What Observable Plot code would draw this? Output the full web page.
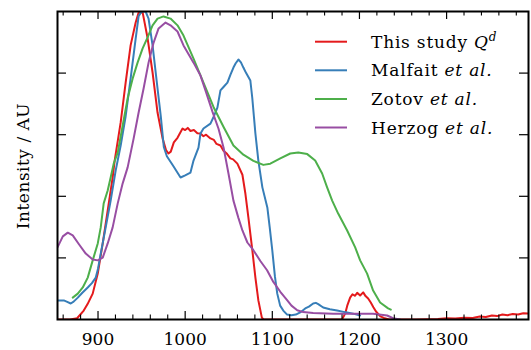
<!DOCTYPE html>
<html><head><meta charset="utf-8">
<script src="https://cdn.jsdelivr.net/npm/d3@7"></script>
<script src="https://cdn.jsdelivr.net/npm/@observablehq/plot@0.6"></script>
<style>
body{margin:0;background:#fff;}
#chart{width:531px;height:350px;}
#chart svg text, #chart svg tspan { font-family: "DejaVu Serif", serif !important; }
</style></head><body><div id="chart"></div>
<script>
const seriesNames = ["This study", "Malfait", "Zotov", "Herzog"];
const seriesColors = ["#e41a1c", "#377eb8", "#4daf4a", "#984ea3"];

const thisStudy = [[853.5,0],[868,0],[876,0.004],[883.6,0.029],[888,0.05],[893.9,0.084],[899.7,0.149],[905.4,0.247],[911.1,0.354],[916.8,0.461],[919.1,0.516],[926,0.640],[931.7,0.769],[937.4,0.890],[943.2,0.964],[946.6,0.997],[951.2,0.997],[956.9,0.913],[962.6,0.802],[968.3,0.672],[974.1,0.588],[978,0.550],[980.8,0.539],[983.5,0.545],[987,0.575],[991.2,0.590],[994,0.605],[997,0.620],[1000,0.615],[1003,0.622],[1006.1,0.612],[1010,0.615],[1014,0.605],[1017.6,0.604],[1021,0.595],[1024,0.600],[1029,0.588],[1033,0.583],[1036,0.570],[1040.5,0.565],[1044,0.548],[1048,0.538],[1051.9,0.523],[1055,0.52],[1059.9,0.506],[1065.7,0.47],[1069.1,0.409],[1072.5,0.332],[1077,0.227],[1080.6,0.136],[1084,0.062],[1088,0.006],[1090,0],[1180,0],[1183.6,0.019],[1186,0.045],[1189.3,0.071],[1192,0.082],[1195,0.077],[1197.4,0.087],[1200.8,0.078],[1204.3,0.088],[1207,0.076],[1210,0.068],[1213,0.055],[1216,0.04],[1219,0.026],[1224,0.01],[1228,0.005],[1234,0],[1265,0],[1290,0.002],[1300,0.004],[1310,0.003],[1320,0.006],[1330,0.005],[1338,0.01],[1345,0.008],[1352,0.013],[1358,0.011],[1364,0.016],[1370,0.014],[1376,0.018],[1382,0.016],[1388,0.02],[1394,0.019]];

const malfait = [[853.5,0.062],[860.7,0.062],[864,0.058],[868.7,0.052],[872,0.058],[876.8,0.071],[882,0.087],[888.2,0.104],[893,0.118],[897.4,0.136],[900,0.165],[903.1,0.214],[908.8,0.299],[914.5,0.386],[920.3,0.484],[926,0.565],[931.7,0.660],[937.4,0.782],[943.2,0.912],[946.6,0.985],[950,1.0],[954.6,1.0],[958,0.977],[962.6,0.890],[968.3,0.750],[972,0.66],[975.5,0.56],[979,0.53],[986,0.50],[994.7,0.461],[1000,0.468],[1006.1,0.477],[1009.6,0.516],[1015.3,0.558],[1017.6,0.604],[1021,0.620],[1029,0.636],[1033,0.66],[1037,0.688],[1040.5,0.744],[1044,0.755],[1048.5,0.769],[1052,0.795],[1055.4,0.818],[1058,0.832],[1061.1,0.844],[1064,0.835],[1066.8,0.818],[1070,0.80],[1074.8,0.776],[1077,0.72],[1080.6,0.604],[1084,0.516],[1088.6,0.429],[1094.3,0.364],[1097,0.30],[1100,0.224],[1103,0.14],[1105.7,0.084],[1109,0.045],[1112.6,0.029],[1117,0.016],[1122,0.014],[1127,0.016],[1132,0.023],[1137.8,0.036],[1142,0.042],[1146.9,0.052],[1150,0.054],[1152.7,0.050],[1158.4,0.039],[1166,0.033],[1174.4,0.029],[1183,0.024],[1192.8,0.019],[1200.8,0.013]];

const zotov = [[871,0.071],[876.8,0.084],[882.5,0.104],[888.2,0.136],[893.9,0.192],[899.7,0.247],[903.1,0.299],[906.5,0.377],[911.1,0.419],[914.5,0.461],[918,0.506],[922.6,0.542],[928.3,0.630],[934,0.718],[939.7,0.782],[945.4,0.834],[951.2,0.880],[956.9,0.916],[962.6,0.955],[968.3,0.977],[975.2,0.984],[983.2,0.977],[991.2,0.955],[998.1,0.922],[1009.6,0.847],[1021,0.769],[1032.5,0.690],[1044.1,0.625],[1055.4,0.565],[1066.8,0.535],[1078.3,0.515],[1089.7,0.502],[1097.7,0.506],[1109.2,0.523],[1120.6,0.539],[1129.8,0.542],[1140.1,0.537],[1149.2,0.516],[1157.2,0.474],[1162.9,0.429],[1168.7,0.386],[1175.6,0.344],[1185.9,0.289],[1195.1,0.234],[1200.8,0.192],[1208.8,0.149],[1215.7,0.094],[1223.7,0.055],[1232.9,0.036],[1236,0.032]];

const herzog = [[853.5,0.234],[859.6,0.270],[865.3,0.282],[871,0.273],[877.9,0.245],[885.9,0.214],[893.9,0.195],[899.7,0.192],[905.4,0.201],[911.1,0.247],[916.8,0.299],[922.6,0.377],[928.3,0.442],[934,0.494],[940.9,0.588],[946.6,0.672],[952.3,0.750],[958,0.834],[963.8,0.899],[969.5,0.945],[977.5,0.964],[983.2,0.955],[991.2,0.935],[998.1,0.890],[1009.6,0.834],[1017.6,0.792],[1023.3,0.744],[1031.3,0.675],[1038.2,0.620],[1044.1,0.558],[1049.7,0.474],[1055.4,0.386],[1061.1,0.33],[1065.7,0.289],[1071.4,0.250],[1078.3,0.225],[1086.3,0.190],[1094,0.160],[1101.2,0.122],[1109.2,0.09],[1117.2,0.062],[1122,0.045],[1128.6,0.030],[1135.5,0.024],[1146.9,0.021],[1169.8,0.019],[1192.8,0.019],[1215.7,0.019],[1231.8,0.013],[1238.6,0.004],[1246.6,0]];

const xMajorTicks = [900, 1000, 1100, 1200, 1300];
const xMinorTicks = [860,880,920,940,960,980,1020,1040,1060,1080,1120,1140,1160,1180,1220,1240,1260,1280,1320,1340,1360,1380];
const yTicks = [0.2, 0.4, 0.6, 0.8];
const yLabel = "Intensity / AU";
const legendEntries = [
  [["This study ", "normal"], ["Q", "italic"], ["d", "sup"]],
  [["Malfait ", "normal"], ["et al.", "italic"]],
  [["Zotov ", "normal"], ["et al.", "italic"]],
  [["Herzog ", "normal"], ["et al.", "italic"]]
];

const rows = [thisStudy, malfait, zotov, herzog].flatMap((arr, i) => arr.map(([x, y]) => ({x, y, s: seriesNames[i]})));

const W = 531, H = 350, mL = 57, mR = 3, mT = 11, mB = 31;
const innerH = H - mT - mB, innerW = W - mL - mR;

const plot = Plot.plot({
  width: W, height: H,
  marginLeft: mL, marginRight: mR, marginTop: mT, marginBottom: mB,
  x: {domain: [853.5, 1394], label: null},
  y: {domain: [0, 1], axis: null},
  color: {domain: seriesNames, range: seriesColors},
  style: {fontSize: "17px", background: "white", color: "black"},
  marks: [
    Plot.line(rows, {x: "x", y: "y", z: "s", stroke: "s", strokeWidth: 2, clip: true}),
    Plot.tickX(xMajorTicks, {x: d => d, insetTop: innerH - 8, strokeWidth: 1.2}),
    Plot.tickX(xMajorTicks, {x: d => d, insetBottom: innerH - 8, strokeWidth: 1.2}),
    Plot.tickX(xMinorTicks, {x: d => d, insetTop: innerH - 4.5, strokeWidth: 1.1}),
    Plot.tickX(xMinorTicks, {x: d => d, insetBottom: innerH - 4.5, strokeWidth: 1.1}),
    Plot.tickY(yTicks, {y: d => d, insetRight: innerW - 9, strokeWidth: 1.2}),
    Plot.tickY(yTicks, {y: d => d, insetLeft: innerW - 9, strokeWidth: 1.2}),
    Plot.axisX(xMajorTicks, {tickSize: 0, tickPadding: 13.5, fontSize: 17, tickFormat: d => String(d)}),
    Plot.frame({stroke: "black", strokeWidth: 2})
  ]
});

const svg = d3.select(plot);
svg.append("text")
  .attr("transform", "translate(23,166) rotate(-90)")
  .attr("text-anchor", "middle")
  .attr("dominant-baseline", "central")
  .attr("font-size", 17).attr("fill", "black")
  .style("letter-spacing", "0.5px")
  .text(yLabel);

const legendY = [41.7, 70.3, 99, 127.5];
const lg = svg.append("g").attr("font-size", 17).attr("text-anchor", "start");
legendEntries.forEach((parts, i) => {
  lg.append("line").attr("x1", 315).attr("x2", 347).attr("y1", legendY[i]).attr("y2", legendY[i])
    .attr("stroke", seriesColors[i]).attr("stroke-width", 2);
  const t = lg.append("text").attr("x", 371).attr("y", legendY[i] + 6).attr("fill", "black")
    .attr("text-anchor", "start").style("letter-spacing", "0.8px");
  parts.forEach(([txt, style]) => {
    const ts = t.append("tspan").text(txt);
    if (style === "italic") ts.attr("font-style", "italic");
    if (style === "sup") ts.attr("font-style", "italic").attr("font-size", 12).attr("dy", -7);
  });
});

document.getElementById("chart").appendChild(plot);
</script></body></html>
